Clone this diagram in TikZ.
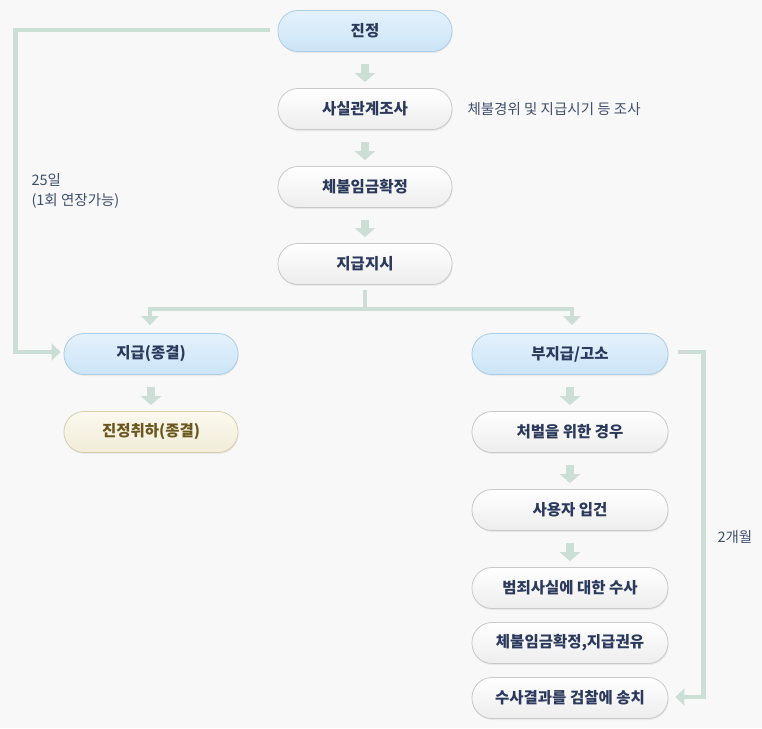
\documentclass[tikz,border=0pt]{standalone}
\usepackage{fontspec}
\setmainfont{Noto Sans CJK KR}
\usetikzlibrary{arrows.meta,shadows,calc}
\definecolor{bgc}{HTML}{F8F8F8}
\definecolor{conn}{HTML}{CCDFD6}
\definecolor{txt}{HTML}{2B3A5C}
\definecolor{lbl}{HTML}{3F4F6C}
\definecolor{wbord}{HTML}{C9C9C9}
\definecolor{bluetop}{HTML}{E4F2FC}
\definecolor{bluebot}{HTML}{CCE4F6}
\definecolor{bluebord}{HTML}{ACCDE6}
\definecolor{creamtop}{HTML}{FBF9EE}
\definecolor{creambot}{HTML}{F1EDD9}
\definecolor{creambord}{HTML}{D6CFAE}
\definecolor{creamtxt}{HTML}{6A5720}
\tikzset{
  pill/.style={rectangle, rounded corners=20pt, minimum height=41pt, minimum width=174pt,
    draw=wbord, line width=0.8pt, top color=white, bottom color=white!93!black,
    font=\bfseries\fontsize{15.5}{18}\selectfont, text=txt,
    drop shadow={opacity=0.12, shadow xshift=0.6pt, shadow yshift=-1.6pt}},
  widepill/.style={pill, minimum width=196pt},
  bluepill/.style={draw=bluebord, top color=bluetop, bottom color=bluebot},
  creampill/.style={draw=creambord, top color=creamtop, bottom color=creambot, text=creamtxt},
  downarr/.style={draw=none, conn, line width=8pt, -{Triangle[width=20pt,length=9pt]}},
  conn/.style={draw=conn, line width=4.5pt},
  connarr/.style={conn, -{Triangle[width=17pt,length=9pt]}},
  note/.style={font=\fontsize{14.5}{20}\selectfont, text=lbl, align=left},
}
\begin{document}
\begin{tikzpicture}[x=1pt,y=-1pt]
\useasboundingbox[fill=bgc] (0,0) rectangle (762,728);
% left column
\node[pill,bluepill] (jj) at (365,31) {진정};
\node[pill] (ss) at (365,109) {사실관계조사};
\node[pill] (ch) at (365,187) {체불임금확정};
\node[pill] (js) at (365,264) {지급지시};
\node[pill,bluepill] (jg) at (151,354) {지급(종결)};
\node[pill,creampill] (cw) at (151,432) {진정취하(종결)};
% right column
\node[widepill,bluepill] (bu) at (570,354) {부지급/고소};
\node[widepill] (cb) at (570,432) {처벌을 위한 경우};
\node[widepill] (sy) at (570,510) {사용자 입건};
\node[widepill] (bj) at (570,588) {범죄사실에 대한 수사};
\node[widepill] (ck) at (570,643) {체불임금확정,지급권유};
\node[widepill] (sg) at (570,698) {수사결과를 검찰에 송치};
% notes
\node[note, anchor=west] (n1) at (464,109) {체불경위 및 지급시기 등 조사};
\node[note, anchor=north west] (n2) at (28,170) {25일\\(1회 연장가능)};
\node[note, anchor=west] (n3) at (714,537) {2개월};
% down arrows
\foreach \a/\b in {jj/ss, ss/ch, ch/js, jg/cw, bu/cb, cb/sy, sy/bj}{
  \path[downarr, shorten <=12pt, shorten >=6pt] (\a.south) -- (\b.north);
}
% branch
\draw[conn] ([yshift=-5pt]js.south) -- ++(0,19) coordinate (br);
\draw[connarr] ([xshift=2.25pt]br) -| ([xshift=-1pt,yshift=8pt]jg.north);
\draw[connarr] ([xshift=-2.25pt]br) -| ([xshift=2pt,yshift=8pt]bu.north);
% left loop
\draw[connarr] ([xshift=-8pt,yshift=1pt]jj.west) -- ([xshift=-262pt,yshift=1pt]jj.west) |- ([xshift=-3pt,yshift=2pt]jg.west);
% right loop
\draw[connarr] ([xshift=10pt,yshift=2pt]bu.east) -- ([xshift=35pt,yshift=2pt]bu.east) |- ([xshift=7pt,yshift=1pt]sg.east);
\end{tikzpicture}
\end{document}
